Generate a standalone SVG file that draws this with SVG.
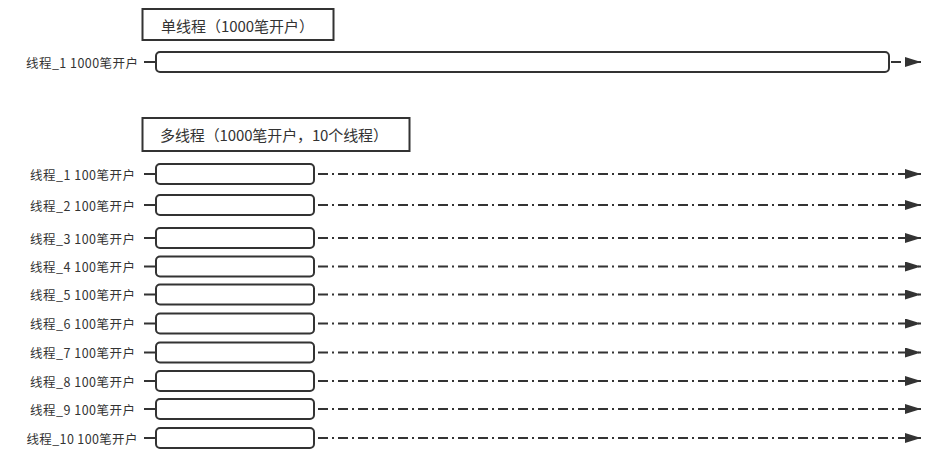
<svg xmlns="http://www.w3.org/2000/svg" width="933" height="460" viewBox="0 0 933 460">
<defs>
<style>
text{font-family:"Microsoft YaHei","Noto Sans CJK SC","Noto Sans",sans-serif;fill:#333;dominant-baseline:central}
.title{font-size:15px}
.lbl{font-size:12.5px;text-anchor:end}
.tbox{fill:#fff;stroke:#333;stroke-width:2}
.bar{fill:#fff;stroke:#333;stroke-width:2}
.stub{stroke:#333;stroke-width:2;fill:none}
.flow{stroke:#333;stroke-width:2;fill:none;stroke-dasharray:10 4 2 4}
</style>
<marker id="arr" markerWidth="16" markerHeight="10" refX="16" refY="5" orient="auto" markerUnits="userSpaceOnUse">
<path d="M0,0 L16,5 L0,10 Z" fill="#333"/>
</marker>
</defs>
<rect width="933" height="460" fill="#fff"/>
<g id="title-single">
<rect class="tbox" x="142.5" y="9" width="191" height="31"/>
<text class="title" x="161" y="25" textLength="153" lengthAdjust="spacing">单线程（1000笔开户）</text>
</g>
<g id="title-multi">
<rect class="tbox" x="142.5" y="118" width="267" height="33"/>
<text class="title" x="160" y="134.5" textLength="228" lengthAdjust="spacing">多线程（1000笔开户，10个线程）</text>
</g>
<g id="single-1">
<text class="lbl" x="138" y="62" textLength="112" lengthAdjust="spacing">线程_1 1000笔开户</text>
<rect class="bar" x="156" y="52" width="733" height="20" rx="4"/>
</g>
<g id="multi-1"><text class="lbl" x="135" y="174" textLength="105" lengthAdjust="spacing">线程_1 100笔开户</text><rect class="bar" x="156" y="164" width="158" height="20" rx="4"/></g>
<g id="multi-2"><text class="lbl" x="135" y="205" textLength="105" lengthAdjust="spacing">线程_2 100笔开户</text><rect class="bar" x="156" y="195" width="158" height="20" rx="4"/></g>
<g id="multi-3"><text class="lbl" x="135" y="238" textLength="105" lengthAdjust="spacing">线程_3 100笔开户</text><rect class="bar" x="156" y="228" width="158" height="20" rx="4"/></g>
<g id="multi-4"><text class="lbl" x="135" y="266.5" textLength="105" lengthAdjust="spacing">线程_4 100笔开户</text><rect class="bar" x="156" y="256.5" width="158" height="20" rx="4"/></g>
<g id="multi-5"><text class="lbl" x="135" y="294.5" textLength="105" lengthAdjust="spacing">线程_5 100笔开户</text><rect class="bar" x="156" y="284.5" width="158" height="20" rx="4"/></g>
<g id="multi-6"><text class="lbl" x="135" y="323.5" textLength="105" lengthAdjust="spacing">线程_6 100笔开户</text><rect class="bar" x="156" y="313.5" width="158" height="20" rx="4"/></g>
<g id="multi-7"><text class="lbl" x="135" y="352.5" textLength="105" lengthAdjust="spacing">线程_7 100笔开户</text><rect class="bar" x="156" y="342.5" width="158" height="20" rx="4"/></g>
<g id="multi-8"><text class="lbl" x="135" y="381" textLength="105" lengthAdjust="spacing">线程_8 100笔开户</text><rect class="bar" x="156" y="371" width="158" height="20" rx="4"/></g>
<g id="multi-9"><text class="lbl" x="135" y="409" textLength="105" lengthAdjust="spacing">线程_9 100笔开户</text><rect class="bar" x="156" y="399" width="158" height="20" rx="4"/></g>
<g id="multi-10"><text class="lbl" x="137.5" y="438" textLength="111" lengthAdjust="spacing">线程_10 100笔开户</text><rect class="bar" x="156" y="428" width="158" height="20" rx="4"/></g>
<g id="connectors">
<path class="stub" d="M144,62H155 M144,174H155 M144,205H155 M144,238H155 M144,266.5H155 M144,294.5H155 M144,323.5H155 M144,352.5H155 M144,381H155 M144,409H155 M144,438H155"/>
<path class="flow" d="M891,62H921" stroke-dasharray="2 4 2 4 6 40" marker-end="url(#arr)"/>
<path class="flow" d="M318,174H921" marker-end="url(#arr)"/>
<path class="flow" d="M318,205H921" marker-end="url(#arr)"/>
<path class="flow" d="M318,238H921" marker-end="url(#arr)"/>
<path class="flow" d="M318,266.5H921" marker-end="url(#arr)"/>
<path class="flow" d="M318,294.5H921" marker-end="url(#arr)"/>
<path class="flow" d="M318,323.5H921" marker-end="url(#arr)"/>
<path class="flow" d="M318,352.5H921" marker-end="url(#arr)"/>
<path class="flow" d="M318,381H921" marker-end="url(#arr)"/>
<path class="flow" d="M318,409H921" marker-end="url(#arr)"/>
<path class="flow" d="M318,438H921" marker-end="url(#arr)"/>
</g>
</svg>
